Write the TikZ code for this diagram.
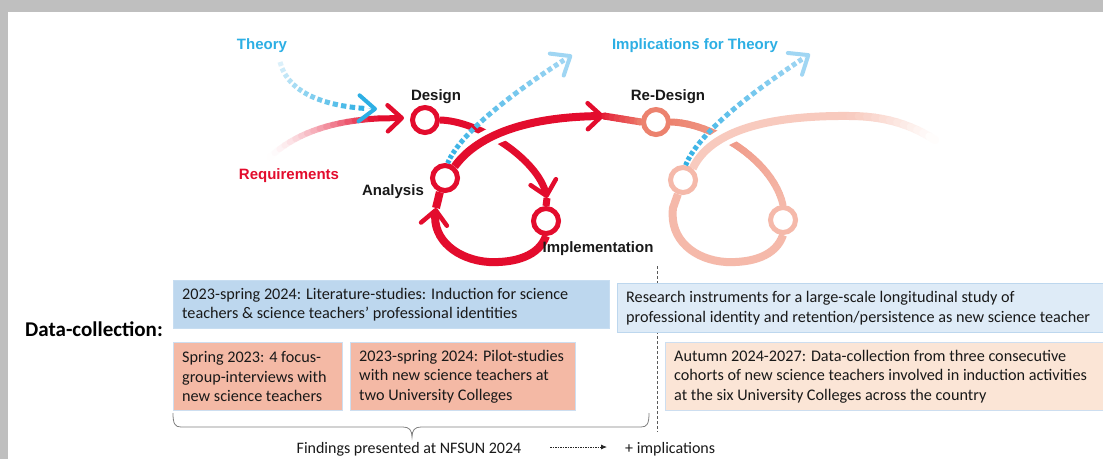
\documentclass[tikz,border=0pt]{standalone}
\usepackage{fontspec}
\setmainfont{Carlito}
\newfontfamily\labfont{Liberation Sans}
\usetikzlibrary{arrows.meta,calc}
\pgfdeclarelayer{front}
\pgfdeclarelayer{top}
\pgfsetlayers{main,front,top}

\definecolor{dred}{RGB}{227,12,45}
\definecolor{rsal}{RGB}{236,130,110}
\definecolor{fsal}{RGB}{245,185,170}
\definecolor{farc}{RGB}{248,202,190}
\definecolor{tblue}{RGB}{45,175,228}
\definecolor{lblue}{RGB}{160,214,243}
\definecolor{thstart}{RGB}{225,242,251}
\definecolor{boxA}{RGB}{189,215,238}
\definecolor{boxB}{RGB}{222,235,247}
\definecolor{boxC}{RGB}{244,185,165}
\definecolor{boxD}{RGB}{251,229,214}
\definecolor{boxedge}{RGB}{205,222,240}
\definecolor{txt}{RGB}{25,25,25}
\definecolor{framegray}{RGB}{191,191,191}

% sample points along a cubic curve
\newcommand{\samplecurve}[6]{%
  \foreach \i [evaluate=\i as \tpos using \i/#6] in {0,...,#6}{%
    \path (#2) .. controls (#3) and (#4) .. (#5) coordinate[pos=\tpos] (#1-\i);}}
% solid gradient stroke through sampled points (#7 = exponent of the ramp)
\newcommand{\gradsolid}[7][1]{%
  \foreach \i [evaluate=\i as \j using int(\i-1), evaluate=\i as \p using 100*((\i-0.5)/#3)^#1] in {1,...,#3}{%
    \draw[line width=#6, line cap=#7, draw=#5!\p!#4] (#2-\j) -- (#2-\i);}}
% dashed gradient stroke through sampled points
\newcommand{\graddash}[6]{%
  \foreach \i [evaluate=\i as \j using int(\i-1), evaluate=\i as \p using 100*(\i-0.5)/#2] in {1,...,#2}{%
    \draw[line width=#5, line cap=butt, draw=#4!\p!#3] (#1-\j) -- ($(#1-\j)!#6!(#1-\i)$);}}

\begin{document}
\begin{tikzpicture}[x=1pt,y=-1pt,
  circ/.style={circle, draw=#1, fill=white, line width=5pt, minimum size=25pt, inner sep=0pt},
  rtip/.style={-{Straight Barb[length=14pt,width=26pt,line width=4.5pt,round]}},
  btip/.style={-{Straight Barb[length=16pt,width=26pt,line width=4pt,round]}},
  lab/.style={font=\labfont\bfseries\fontsize{15}{18}\selectfont, inner sep=0pt, anchor=base},
  boxnode/.style={rectangle, draw=boxedge, line width=1pt, inner sep=0pt, anchor=north west},
  boxtext/.style={font=\fontsize{16.2}{19.5}\selectfont, text=txt, align=left, inner sep=0pt, anchor=west},
  plain/.style={font=\fontsize{16}{19.5}\selectfont, text=txt, inner sep=0pt},
  bracestyle/.style={draw=black!50, line width=0.8pt},
  vdash/.style={draw=black!65, line width=0.9pt, dash pattern=on 3pt off 2pt},
  darrow/.style={draw=black!85, line width=0.8pt, dash pattern=on 1.5pt off 1pt, -{Latex[length=6pt,width=5pt]}}
]
\useasboundingbox (0,0) rectangle (1103,459);
\clip (0,0) rectangle (1103,459);
\fill[framegray] (0,0) rectangle (1103,459);
\fill[white] (8,12) rectangle (1103,459);

% ---------- circles (front layer) ----------
\begin{pgfonlayer}{front}
\node[circ=dred] (des) at (425,120) {};
\node[circ=dred] (ana) at (445,178) {};
\node[circ=dred] (imp) at (546,221) {};
\node[circ=rsal] (red) at (656,122) {};
\node[circ=fsal] (fana) at (683,180) {};
\node[circ=fsal] (fimp) at (783,220) {};
\end{pgfonlayer}

% dashed divider (behind the boxes)
\coordinate (vtop) at (657,266);
\coordinate (vbot) at (657,432);
\draw[vdash] (vtop) -- (vbot);

% ---------- boxes ----------
\node[boxnode, fill=boxA, draw=boxA!85!white, minimum width=436pt, minimum height=48pt] (litbox) at (173,280) {};
\node[boxtext] (littext) at ([xshift=9pt]litbox.west) {2023-spring 2024: Literature-studies: Induction for science\\teachers \& science teachers’ professional identities};
\node[boxnode, fill=boxB, draw=boxA, minimum width=495pt, minimum height=49pt] (resbox) at (617,283) {};
\node[boxtext] (restext) at ([xshift=9pt]resbox.west) {Research instruments for a large-scale longitudinal study of\\professional identity and retention/persistence as new science teacher};
\node[boxnode, fill=boxC, minimum width=169pt, minimum height=68pt] (springbox) at (173,342) {};
\node[boxtext] (springtext) at ([xshift=9pt]springbox.west) {Spring 2023: 4 focus-\\group-interviews with\\new science teachers};
\node[boxnode, fill=boxC, minimum width=225pt, minimum height=68pt] (pilotbox) at (350,342) {};
\node[boxtext] (pilottext) at ([xshift=9pt]pilotbox.west) {2023-spring 2024: Pilot-studies\\with new science teachers at\\two University Colleges};
\node[boxnode, fill=boxD, minimum width=450pt, minimum height=68pt] (autbox) at (665,342) {};
\node[boxtext] (auttext) at ([xshift=9pt]autbox.west) {Autumn 2024-2027: Data-collection from three consecutive\\cohorts of new science teachers involved in induction activities\\at the six University Colleges across the country};

\node[font=\bfseries\fontsize{21}{25}\selectfont, text=black, inner sep=0pt, anchor=base west] (dc) at (25,336) {Data-collection:};

% brace
\draw[bracestyle] (173,413) .. controls (173,424) and (175,427) .. (181,427) -- (403,427)
  .. controls (409,427) and (412,430) .. (412,437)
  .. controls (412,430) and (415,427) .. (421,427) -- (641,427)
  .. controls (647,427) and (649,424) .. (649,413);

\node[plain, anchor=base] (find) at (409,453) {Findings presented at NFSUN 2024};
\node[plain, anchor=base west] (plus) at (625,453) {+ implications};
\coordinate (da1) at (550,447);
\coordinate (da2) at (607,447);
\draw[darrow] (da1) -- (da2);

% ---------- red cycle ----------
% Requirements incoming
\samplecurve{rq}{270,157}{300,129}{345,117}{404,118}{20}
\gradsolid[1.6]{rq}{17}{white}{dred}{6pt}{round}
\draw[dred, line width=6pt, rtip] (rq-17) -- (rq-20);

% Design -> Implementation
\draw[dred, line width=7pt, rtip] (des.east) .. controls (480,121) and (538,160) .. (547,198) coordinate (dtip);
\draw[dred, line width=7pt] (dtip) -- (imp.north);

% Implementation -> Analysis loop
\draw[dred, line width=8pt, rtip] (imp.south) .. controls (539,256) and (515,263) .. (489,262)
  .. controls (458,260) and (432,240) .. (436,208) coordinate (atip);
\draw[dred, line width=8pt] (atip) -- (ana.250);

% Analysis -> Re-Design arc with halo
\draw[white, line width=18pt] (ana.50) .. controls (475,138) and (520,117) .. (604,116);
\draw[dred, line width=8pt, rtip] (ana.50) .. controls (475,138) and (520,117) .. (604,116) coordinate (arctip);
\samplecurve{rg}{arctip}{arctip}{red.west}{red.west}{10}
\gradsolid{rg}{10}{dred}{rsal}{7pt}{round}

% Re-Design -> faded implementation
\samplecurve{rd}{red.east}{712,123}{773,160}{fimp.north}{24}
\gradsolid{rd}{24}{rsal}{fsal}{7pt}{round}

% faded loop
\draw[fsal, line width=8pt] (fimp.south) .. controls (776,256) and (752,263) .. (726,262)
  .. controls (695,260) and (669,240) .. (673,208) -- (fana.250);

% faded arc with halo
\draw[white, line width=18pt] (fana.50) .. controls (708,136) and (755,115) .. (850,116);
\draw[farc, line width=8pt] (fana.50) .. controls (708,136) and (755,115) .. (850,116);
\samplecurve{fa}{850,116}{885,116}{912,125}{935,140}{12}
\gradsolid{fa}{12}{farc}{white}{8pt}{round}

% ---------- blue dashed arrows and labels (top layer) ----------
\begin{pgfonlayer}{top}
\samplecurve{th}{280,62}{288,95}{330,108}{377,109}{15}
\graddash{th}{14}{thstart}{tblue}{5pt}{0.62}
\draw[tblue, line width=0.1pt, btip] (th-14) -- (th-15);

\samplecurve{ia}{ana.80}{462,128}{532,80}{572,55}{22}
\graddash{ia}{21}{tblue}{lblue}{5pt}{0.62}
\draw[lblue, line width=0.1pt, btip] (ia-21) -- (ia-22);

\samplecurve{ib}{fana.80}{700,128}{770,80}{810,54}{22}
\graddash{ib}{21}{tblue}{lblue}{5pt}{0.62}
\draw[lblue, line width=0.1pt, btip] (ib-21) -- (ib-22);

\node[lab, text=tblue] (theorylab) at (262,49) {Theory};
\node[lab, text=tblue] (impthlab) at (695,49) {Implications for Theory};
\node[lab, text=txt] (designlab) at (436,100) {Design};
\node[lab, text=txt] (redesignlab) at (668,100) {Re-Design};
\node[lab, text=dred] (reqlab) at (289,179) {Requirements};
\node[lab, text=txt] (analab) at (393,195) {Analysis};
\node[lab, text=txt] (implab) at (598,252) {Implementation};
\end{pgfonlayer}
\end{tikzpicture}
\end{document}
